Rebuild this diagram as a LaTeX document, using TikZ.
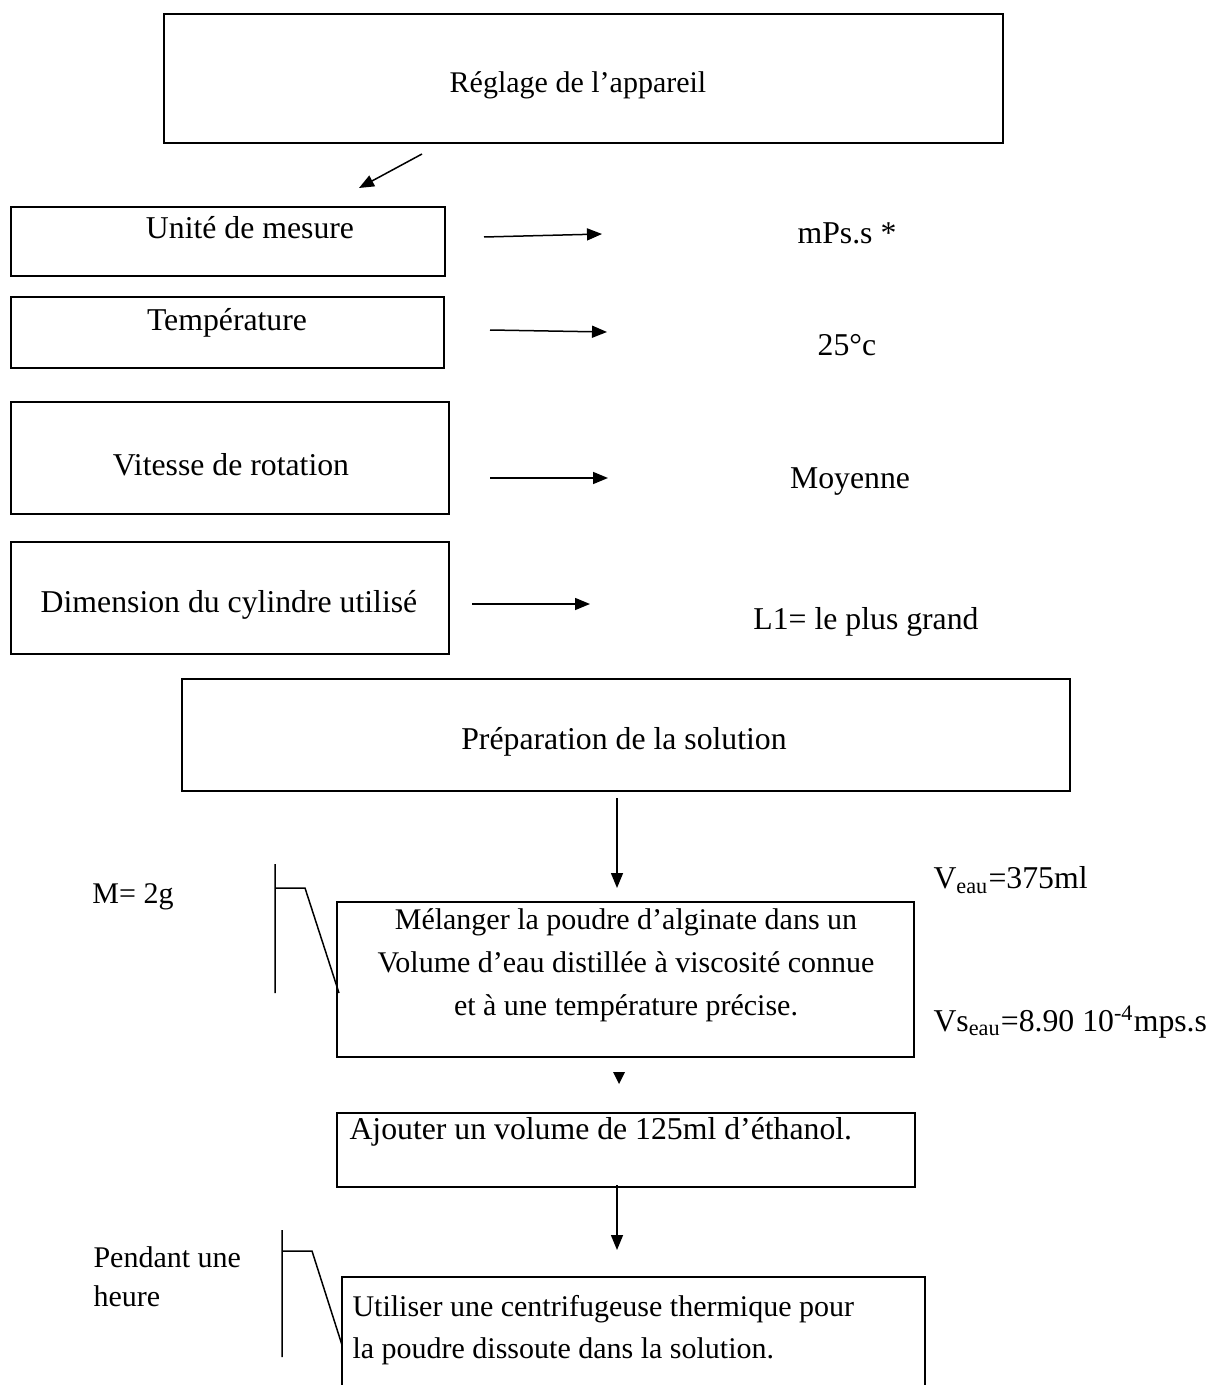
\documentclass[tikz,border=0pt]{standalone}
\usepackage{fontspec}
\setmainfont{Liberation Serif}
\usetikzlibrary{arrows.meta,fit}

\begin{document}
\begin{tikzpicture}[x=0.4pt,y=-0.4pt,
        box/.style={draw,line width=0.6pt,inner sep=0pt},
        txt/.style={inner sep=0pt,font=\fontsize{12}{17.2}\selectfont},
        bigtxt/.style={inner sep=0pt,font=\fontsize{12.7}{17.2}\selectfont},
        arr/.style={-{Triangle[length=6pt,width=4.8pt]},line width=0.6pt}]

        \useasboundingbox (0,0) rectangle (1208,1385); % Page
        
        % Reglage de l'appareil
        \node[box,fit={(164,14) (1003,143)}] (reglage) {};
        \node[txt] (reglageT) at (578,85) {Réglage de l’appareil};
        \coordinate (dA) at (422,154);
        \coordinate (dB) at (359,188);
        \draw[arr] (dA) -- (dB);
        
        % Parameter boxes and their values
        \node[box,fit={(11,207) (445,276)}] (unite) {};
        \node[bigtxt] (uniteT) at (250,228) {Unité de mesure};
        \node[bigtxt] (uniteV) at (847,233) {mPs.s *};
        
        \node[box,fit={(11,297) (444,368)}] (temp) {};
        \node[bigtxt] (tempT) at (227,323) {Température};
        \node[bigtxt] (tempV) at (847,345) {25°c};
        
        \node[box,fit={(11,402) (449,514)}] (vitesse) {};
        \node[bigtxt] (vitesseT) at (231,465) {Vitesse de rotation};
        \node[bigtxt] (vitesseV) at (850,482) {Moyenne};
        
        \node[box,fit={(11,542) (449,654)}] (dim) {};
        \node[bigtxt] (dimT) at (229,605) {Dimension du cylindre utilisé};
        \node[bigtxt] (dimV) at (866,622) {L1= le plus grand};
        
        %%%%Arrows towards the values
        \foreach \n/\xa/\ya/\xb/\yb in {1/484/237/602/234, 2/490/330/607/332, 3/490/478/608/478, 4/472/604/590/604}
            {
            \coordinate (s\n) at (\xa,\ya);
            \coordinate (e\n) at (\xb,\yb);
            \draw[arr] (s\n) -- (e\n);
            }
        
        % Preparation de la solution
        \node[box,fit={(182,679) (1070,791)}] (prep) {};
        \node[bigtxt] (prepT) at (624,742) {Préparation de la solution};
        \coordinate (pA) at (617,798);
        \coordinate (pB) at (617,888);
        \draw[arr] (pA) -- (pB);
        
        \node[txt] (masse) at (133,897) {M= 2g};
        \draw[line width=0.6pt] (275,864) -- (275,993) (275,888) -- (305,888) -- (339,993);
        
        \node[box,fit={(337,902) (914,1057)}] (melange) {};
        \node[txt,align=center] (melangeT) at (626,965) {Mélanger la poudre d’alginate dans un\\Volume d’eau distillée à viscosité connue\\et à une température précise.};
        \node[bigtxt,anchor=west] (veau) at (933,880) {V\textsubscript{eau}=375ml};
        \node[bigtxt,anchor=west] (vseau) at (933,1022) {Vs\textsubscript{eau}=8.90 10\textsuperscript{-4}mps.s};
        \fill (613,1072) -- (625,1072) -- (619,1084) -- cycle;
        
        \node[box,fit={(337,1113) (915,1187)}] (ajout) {};
        \node[bigtxt,anchor=west] (ajoutT) at (349,1132) {Ajouter un volume de 125ml d’éthanol.};
        \coordinate (aA) at (617,1185);
        \coordinate (aB) at (617,1250);
        \draw[arr] (aA) -- (aB);
        
        % Centrifugation
        \node[txt,align=left,anchor=north west,font=\fontsize{12}{15.6}\selectfont] (duree) at (93,1246) {Pendant une\\heure};
        \draw[line width=0.6pt] (282,1230) -- (282,1357) (282,1251) -- (312,1251) -- (342,1345);
        \draw[line width=0.6pt] (342,1385) |- (925,1277) -- (925,1385);
        \node[txt,align=left,anchor=north west,font=\fontsize{12}{16.8}\selectfont] (centriT) at (352,1295) {Utiliser une centrifugeuse thermique pour\\la poudre dissoute dans la solution.};
        
    \end{tikzpicture}
\end{document}
